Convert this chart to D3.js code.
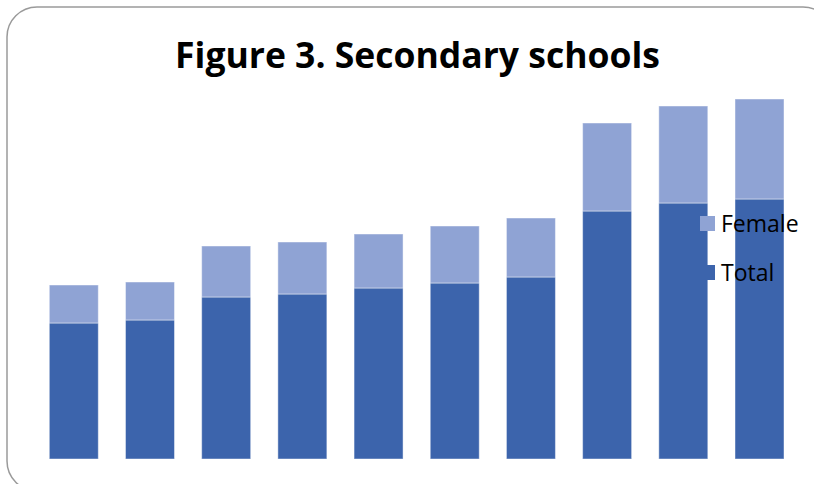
<!DOCTYPE html>
<html>
<head>
<meta charset="utf-8">
<script src="https://cdn.jsdelivr.net/npm/d3@7"></script>
<style>
  html, body { margin: 0; padding: 0; background: #fff; }
  svg { display: block; }
</style>
</head>
<body>
<svg id="chart" width="814" height="484"></svg>
<script>
// ---- data ----
const categories = ["1", "2", "3", "4", "5", "6", "7", "8", "9", "10"];
const totalValues = [136, 139, 162, 165, 171, 176, 182, 248, 256, 260];
const femaleValues = [38, 38, 51, 52, 54, 57, 59, 88, 97, 100];
const seriesNames = ["Female", "Total"];
const titleText = "Figure 3. Secondary schools";

// ---- setup ----
const W = 814, H = 484;
const svg = d3.select("#chart");
const colors = { Total: "#3C64AC", Female: "#8FA3D4" };

// frame
svg.append("rect")
  .attr("x", 7).attr("y", 7)
  .attr("width", 826).attr("height", 484)
  .attr("rx", 30).attr("ry", 30)
  .attr("fill", "#fff")
  .attr("stroke", "#9a9a9a")
  .attr("stroke-width", 1.5);

// title
svg.append("text")
  .attr("x", 417.5).attr("y", 67.5)
  .attr("text-anchor", "middle")
  .attr("font-family", "'Open Sans', Lato, sans-serif")
  .attr("font-weight", "bold")
  .attr("font-size", 35.5)
  .attr("fill", "#000")
  .text(titleText);

// scales
const step = (735 - 49.3) / 9;
const pi = 1 - 49 / step;
const x = d3.scaleBand()
  .domain(categories)
  .range([49.3 - step * pi / 2, 784 + step * pi / 2])
  .paddingInner(pi)
  .paddingOuter(pi / 2);

const y = d3.scaleLinear().domain([0, 400]).range([459, 59]);

const rows = categories.map((c, i) => ({ cat: c, Total: totalValues[i], Female: femaleValues[i] }));
const stack = d3.stack().keys(["Total", "Female"]);
const layers = stack(rows);

svg.append("g").selectAll("g")
  .data(layers)
  .join("g")
  .attr("fill", d => colors[d.key])
  .selectAll("rect")
  .data(d => d)
  .join("rect")
  .attr("x", d => x(d.data.cat))
  .attr("y", d => y(d[1]))
  .attr("width", x.bandwidth())
  .attr("height", d => y(d[0]) - y(d[1]))
  .attr("stroke", "#ffffff")
  .attr("stroke-opacity", 0.45)
  .attr("stroke-width", 1);

// legend
const legend = svg.append("g");
const legendY = { Female: 216, Total: 265 };
seriesNames.forEach(name => {
  legend.append("rect")
    .attr("x", 700).attr("y", legendY[name])
    .attr("width", 15).attr("height", 15)
    .attr("fill", colors[name]);
  legend.append("text")
    .attr("x", 721).attr("y", legendY[name] + 15.5)
    .attr("font-family", "'Open Sans', Lato, sans-serif")
    .attr("font-size", 23)
    .attr("fill", "#000")
    .text(name);
});
</script>
</body>
</html>
